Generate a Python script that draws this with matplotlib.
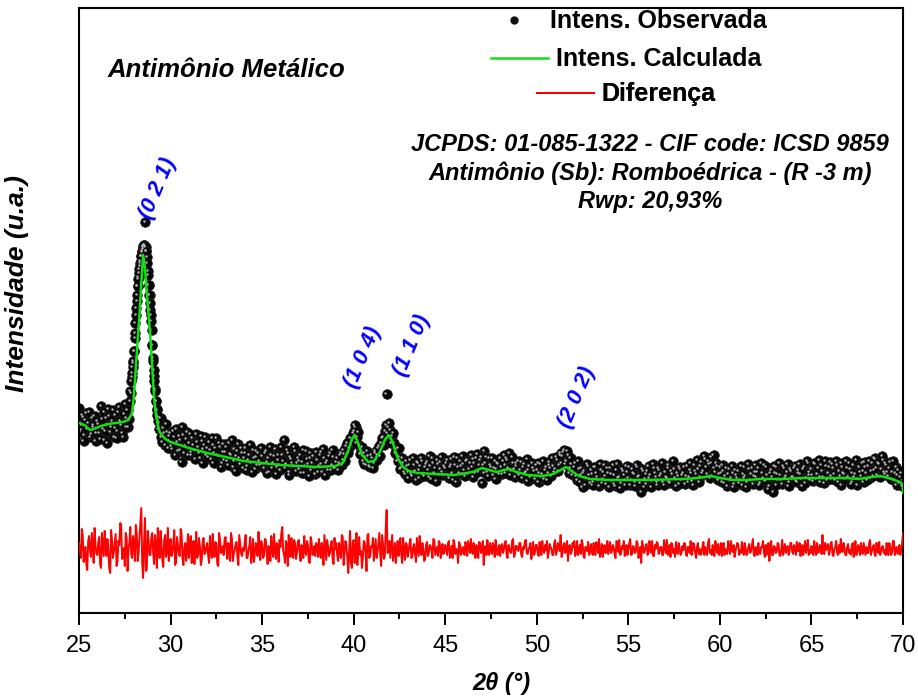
import numpy as np
import matplotlib
matplotlib.use("Agg")
import matplotlib.pyplot as plt
import matplotlib.transforms as mtransforms
from matplotlib.lines import Line2D
from matplotlib.ticker import MultipleLocator

plt.rcParams['font.family'] = ['Liberation Sans', 'DejaVu Sans']

### DATA (arbitrary intensity units)

# observed pattern, 2theta 25.0 ... 70.0, step 0.1
obs = [
    205, 183, 196, 178, 200, 190, 176, 195, 186, 172,   # 25
    192, 180, 207, 184, 173, 195, 204, 181, 192, 176,   # 26
    198, 182, 206, 188, 176, 209, 195, 186, 212, 236,   # 27
    262, 298, 327, 344, 357, 366, 367, 356, 328, 303,   # 28
    268, 237, 212, 196, 190, 176, 185, 168, 181, 172,   # 29
    180, 164, 176, 184, 162, 173, 151, 178, 167, 181,   # 30
    170, 158, 175, 163, 179, 166, 155, 172, 164, 176,   # 31
    165, 171, 154, 168, 160, 175, 157, 166, 150, 169,   # 32
    161, 152, 170, 158, 146, 164, 157, 169, 149, 160,   # 33
    155, 165, 147, 158, 150, 163, 144, 156, 160, 148,   # 34
    157, 145, 162, 151, 141, 158, 150, 164, 146, 153,   # 35
    143, 158, 173, 149, 160, 141, 154, 147, 162, 150,   # 36
    144, 158, 151, 140, 162, 149, 155, 143, 157, 139,   # 37
    153, 147, 161, 141, 155, 150, 143, 160, 148, 156,   # 38
    145, 155, 150, 160, 153, 159, 167, 160, 175, 172,   # 39
    182, 186, 176, 168, 163, 152, 160, 148, 157, 146,   # 40
    155, 150, 162, 158, 167, 170, 176, 182, 219, 186,   # 41
    183, 177, 170, 164, 152, 156, 145, 150, 139, 147,   # 42
    141, 153, 137, 148, 133, 150, 143, 155, 139, 146,   # 43
    151, 136, 147, 155, 140, 132, 149, 144, 156, 138,   # 44
    145, 153, 135, 148, 140, 156, 131, 146, 152, 139,   # 45
    149, 137, 153, 144, 158, 136, 150, 155, 141, 153,   # 46
    130, 162, 150, 141, 155, 146, 138, 152, 144, 149,   # 47
    155, 139, 158, 148, 153, 160, 142, 150, 136, 147,   # 48
    152, 143, 135, 149, 141, 132, 147, 137, 145, 134,   # 49
    143, 131, 149, 139, 134, 146, 140, 151, 137, 147,   # 50
    144, 153, 148, 160, 157, 163, 152, 158, 145, 149,   # 51
    141, 150, 133, 144, 138, 126, 142, 135, 147, 130,   # 52
    139, 131, 146, 136, 127, 143, 134, 148, 129, 140,   # 53
    145, 132, 138, 127, 149, 136, 130, 142, 133, 147,   # 54
    135, 128, 144, 139, 131, 146, 137, 121, 142, 134,   # 55
    129, 147, 138, 132, 145, 136, 128, 143, 139, 131,   # 56
    141, 135, 148, 130, 139, 144, 127, 137, 146, 133,   # 57
    140, 129, 147, 136, 143, 132, 148, 139, 144, 136,   # 58
    151, 142, 154, 139, 149, 156, 137, 145, 150, 133,   # 59
    146, 131, 142, 137, 127, 144, 135, 140, 129, 138,   # 60
    142, 133, 128, 146, 137, 131, 144, 139, 129, 141,   # 61
    136, 145, 130, 140, 148, 133, 138, 127, 143, 121,   # 62
    140, 146, 133, 138, 129, 145, 137, 149, 131, 142,   # 63
    136, 147, 131, 143, 139, 127, 146, 135, 150, 138,   # 64
    144, 132, 149, 139, 153, 136, 142, 130, 147, 140,   # 65
    151, 137, 145, 133, 148, 142, 128, 146, 139, 152,   # 66
    136, 144, 131, 148, 139, 128, 146, 137, 142, 151,   # 67
    140, 147, 135, 150, 143, 154, 138, 149, 144, 153,   # 68
    139, 148, 137, 151, 141, 133, 146, 138, 130, 140,   # 69
    133,                                                # 70
]

# observed, in-between steps 25.05 ... 69.95
obs_mid = [
    181, 198, 172, 193, 184, 201, 179, 188, 197, 180,   # 25
    189, 174, 194, 201, 182, 170, 197, 186, 203, 185,   # 26
    175, 201, 192, 180, 199, 186, 203, 194, 220, 250,   # 27
    280, 312, 336, 350, 362, 368, 362, 342, 318, 292,   # 28
    252, 224, 203, 184, 195, 171, 180, 189, 165, 177,   # 29
    167, 182, 158, 171, 177, 163, 186, 160, 174, 158,   # 30
    179, 161, 168, 154, 171, 160, 177, 150, 168, 158,   # 31
    156, 163, 175, 150, 165, 158, 170, 146, 161, 153,   # 32
    166, 148, 159, 173, 152, 142, 162, 155, 165, 145,   # 33
    160, 143, 153, 168, 141, 155, 162, 148, 152, 165,   # 34
    149, 160, 140, 155, 166, 145, 157, 139, 158, 148,   # 35
    166, 152, 145, 163, 138, 156, 150, 166, 142, 155,   # 36
    152, 140, 163, 147, 154, 137, 160, 150, 145, 161,   # 37
    141, 158, 149, 164, 138, 152, 157, 143, 163, 145,   # 38
    151, 143, 158, 148, 163, 152, 170, 165, 168, 180,   # 39
    188, 170, 181, 159, 166, 149, 156, 162, 147, 158,   # 40
    145, 160, 153, 165, 157, 175, 168, 188, 180, 190,   # 41
    170, 180, 160, 158, 165, 144, 155, 141, 152, 135,   # 42
    148, 139, 155, 142, 151, 135, 147, 152, 137, 149,   # 43
    143, 157, 134, 150, 145, 153, 138, 151, 141, 147,   # 44
    150, 138, 146, 154, 133, 148, 155, 140, 147, 157,   # 45
    143, 152, 139, 150, 146, 154, 140, 159, 148, 156,   # 46
    148, 140, 156, 137, 148, 155, 145, 134, 150, 139,   # 47
    146, 152, 140, 155, 145, 138, 156, 144, 150, 140,   # 48
    138, 151, 146, 140, 154, 143, 136, 150, 142, 148,   # 49
    150, 140, 136, 152, 143, 133, 148, 145, 155, 141,   # 50
    156, 142, 158, 150, 161, 149, 162, 140, 155, 138,   # 51
    146, 137, 152, 131, 145, 140, 128, 149, 138, 143,   # 52
    128, 146, 140, 133, 149, 130, 141, 137, 145, 126,   # 53
    139, 148, 129, 143, 135, 125, 144, 138, 128, 141,   # 54
    146, 133, 140, 127, 148, 136, 130, 144, 126, 139,   # 55
    142, 135, 126, 149, 140, 131, 145, 137, 150, 128,   # 56
    136, 145, 131, 142, 152, 135, 140, 129, 144, 138,   # 57
    146, 137, 131, 150, 140, 128, 142, 153, 131, 147,   # 58
    140, 157, 146, 152, 135, 150, 158, 141, 147, 139,   # 59
    140, 148, 130, 145, 139, 133, 147, 126, 143, 135,   # 60
    130, 147, 139, 135, 126, 149, 133, 145, 137, 148,   # 61
    141, 128, 150, 135, 132, 146, 124, 140, 136, 147,   # 62
    128, 139, 150, 133, 147, 135, 141, 127, 144, 136,   # 63
    145, 132, 140, 149, 134, 144, 130, 152, 141, 133,   # 64
    138, 150, 134, 145, 131, 148, 136, 152, 133, 146,   # 65
    134, 149, 139, 152, 131, 137, 150, 140, 134, 145,   # 66
    150, 129, 140, 136, 153, 134, 141, 150, 131, 146,   # 67
    133, 152, 142, 137, 155, 145, 150, 136, 157, 141,   # 68
    150, 141, 145, 134, 152, 140, 128, 143, 136, 127,   # 69
]

# extra observed points on the (021) peak
pk_x = [27.80, 27.84, 27.88, 27.92, 27.96, 28.00, 28.04, 28.08, 28.12, 28.16,
        28.20, 28.24, 28.28, 28.32, 28.36, 28.40, 28.44, 28.48, 28.52, 28.56,
        28.60, 28.64, 28.68, 28.72, 28.76, 28.80, 28.84, 28.88, 28.92, 28.96,
        29.00, 29.04, 29.08, 29.12, 29.16, 29.20, 29.24, 29.28, 29.32]
pk_y = [222, 232, 240, 246, 252, 262, 275, 290, 305, 318,
        327, 334, 340, 347, 352, 357, 361, 364, 367, 368,
        391, 366, 362, 350, 338, 328, 318, 310, 298, 283,
        268, 255, 243, 232, 222, 212, 204, 198, 192]

# calculated (Rietveld) profile
calc_x = [25.0, 25.3, 25.6, 25.8, 26.2, 26.6, 27.0, 27.4, 27.7, 27.9,
          28.0, 28.1, 28.2, 28.3, 28.4, 28.5, 28.6, 28.7, 28.8, 28.9,
          29.0, 29.1, 29.2, 29.3, 29.4, 29.7, 30.0, 30.5, 31.0, 32.0,
          33.0, 34.0, 35.0, 36.0, 37.0, 38.0, 39.0, 39.4, 39.7, 39.9,
          40.05, 40.2, 40.45, 40.8, 41.1, 41.4, 41.7, 41.9, 42.1, 42.4,
          42.7, 43.0, 43.5, 44.5, 45.5, 46.5, 47.0, 47.4, 47.8, 48.2,
          48.5, 48.9, 49.5, 50.3, 50.9, 51.3, 51.6, 51.9, 52.3, 52.9,
          54.0, 56.0, 58.0, 58.8, 59.5, 60.0, 60.7, 61.5, 62.2, 63.5,
          64.5, 65.8, 66.8, 67.6, 68.3, 68.75, 69.2, 69.85, 69.98, 70.0]
calc_y = [190, 188, 183, 184, 187, 189, 190, 191, 193, 200,
          218, 245, 272, 298, 330, 358, 345, 320, 298, 275,
          245, 215, 198, 188, 181, 174, 171, 168, 165, 160,
          156, 152, 150, 148, 147, 146, 147, 150, 162, 174,
          178, 172, 158, 151, 152, 160, 173, 178, 172, 155,
          146, 142, 140, 139, 138, 141, 145, 143, 141, 143,
          144, 141, 138, 137, 139, 143, 146, 142, 137, 134,
          133, 133, 134, 135, 137, 135, 133, 133, 134, 134,
          135, 135, 135, 134, 136, 137, 135, 131, 128, 120]

# difference curve (offset), step 0.1
diff = [
    70, 55, 78, 60, 48, 72, 62, 80, 50, 67,
    58, 76, 45, 69, 82, 57, 64, 40, 73, 61,
    79, 52, 68, 88, 58, 47, 75, 63, 86, 55,
    70, 88, 52, 76, 105, 35, 95, 44, 72, 58,
    80, 49, 66, 85, 55, 71, 46, 78, 62, 52,
    74, 60, 83, 51, 68, 57, 79, 48, 70, 63,
    55, 77, 62, 49, 81, 58, 67, 53, 75, 60,
    70, 50, 64, 79, 56, 68, 47, 73, 61, 58,
    76, 54, 66, 80, 52, 63, 71, 48, 69, 57,
    62, 78, 55, 67, 50, 74, 59, 65, 81, 53,
    68, 57, 73, 49, 64, 77, 56, 62, 70, 51,
    66, 86, 58, 72, 47, 65, 75, 55, 69, 60,
    73, 52, 64, 77, 58, 68, 50, 71, 62, 57,
    67, 74, 55, 63, 78, 53, 66, 60, 72, 49,
    64, 58, 70, 55, 76, 61, 67, 40, 82, 45,
    73, 58, 48, 76, 62, 55, 70, 42, 79, 58,
    66, 52, 74, 60, 80, 47, 68, 57, 103, 62,
    55, 78, 60, 50, 72, 64, 58, 75, 53, 68,
    62, 74, 56, 69, 51, 66, 77, 58, 64, 54,
    71, 60, 67, 55, 73, 62, 57, 70, 63, 59,
    68, 58, 72, 61, 55, 70, 64, 50, 69, 60,
    63, 71, 57, 66, 74, 59, 62, 68, 55, 70,
    61, 48, 67, 73, 58, 64, 70, 56, 66, 62,
    57, 69, 63, 72, 55, 65, 60, 74, 58, 67,
    62, 70, 56, 64, 73, 59, 66, 54, 71, 61,
    68, 57, 65, 72, 60, 63, 55, 69, 64, 58,
    73, 62, 67, 78, 59, 70, 64, 52, 68, 61,
    66, 57, 72, 63, 59, 69, 55, 65, 71, 60,
    64, 70, 58, 67, 74, 61, 56, 68, 63, 59,
    71, 62, 66, 55, 69, 73, 60, 64, 57, 68,
    63, 74, 59, 66, 61, 70, 58, 50, 67, 62,
    69, 60, 65, 72, 57, 64, 70, 61, 66, 58,
    67, 73, 62, 56, 68, 64, 71, 59, 65, 60,
    63, 69, 57, 66, 72, 61, 67, 55, 70, 64,
    60, 71, 66, 58, 74, 63, 68, 57, 65, 69,
    62, 57, 70, 64, 59, 67, 72, 61, 56, 66,
    68, 63, 71, 58, 65, 60, 69, 62, 74, 57,
    64, 70, 59, 66, 61, 68, 63, 52, 72, 58,
    66, 61, 69, 57, 73, 64, 60, 67, 62, 70,
    59, 65, 71, 62, 57, 68, 64, 60, 73, 63,
    67, 58, 64, 70, 61, 66, 78, 59, 63, 69,
    62, 71, 57, 66, 60, 68, 74, 61, 65, 58,
    69, 63, 67, 56, 72, 61, 65, 70, 59, 64,
    66, 60, 73, 62, 68, 57, 64, 71, 61, 67,
    63, 70, 58, 66, 61, 72, 64, 59, 68, 62,
    80,
]

# difference, in-between steps 25.05 ... 69.95
diff_mid = [
    62, 84, 51, 66, 43, 77, 56, 69, 85, 59,
    71, 49, 80, 57, 66, 74, 45, 83, 55, 70,
    47, 72, 90, 54, 65, 80, 42, 71, 59, 77,
    52, 80, 60, 90, 50, 70, 42, 82, 58, 76,
    60, 78, 45, 68, 82, 52, 73, 56, 85, 64,
    57, 70, 48, 76, 60, 84, 55, 66, 52, 79,
    68, 50, 72, 63, 55, 75, 48, 70, 59, 66,
    58, 77, 55, 62, 71, 49, 80, 60, 67, 74,
    63, 70, 52, 74, 59, 68, 56, 78, 60, 65,
    71, 55, 63, 76, 59, 51, 70, 57, 64, 72,
    55, 74, 60, 67, 52, 63, 79, 54, 66, 73,
    80, 62, 50, 67, 78, 56, 62, 73, 54, 71,
    60, 68, 55, 62, 72, 51, 76, 58, 67, 70,
    56, 62, 70, 48, 65, 73, 57, 68, 54, 75,
    70, 52, 63, 78, 48, 72, 56, 62, 50, 71,
    50, 80, 64, 58, 45, 72, 60, 78, 55, 67,
    75, 63, 55, 70, 58, 78, 54, 85, 60, 72,
    67, 52, 70, 63, 57, 75, 50, 62, 70, 56,
    70, 55, 66, 59, 75, 57, 62, 70, 52, 68,
    57, 68, 62, 74, 58, 66, 72, 55, 69, 61,
    64, 70, 55, 67, 73, 59, 62, 71, 58, 66,
    58, 67, 72, 60, 62, 70, 55, 63, 71, 60,
    72, 64, 58, 62, 70, 59, 66, 73, 58, 68,
    66, 60, 70, 58, 68, 61, 72, 56, 67, 63,
    70, 58, 66, 72, 60, 64, 70, 61, 58, 68,
    60, 71, 58, 63, 68, 72, 60, 66, 58, 70,
    58, 70, 62, 56, 68, 60, 72, 66, 59, 70,
    72, 62, 58, 68, 73, 57, 66, 62, 58, 69,
    58, 62, 71, 60, 56, 69, 64, 60, 72, 66,
    60, 68, 58, 72, 61, 58, 67, 72, 62, 58,
    70, 58, 67, 60, 72, 55, 66, 72, 60, 68,
    58, 72, 60, 57, 68, 71, 59, 66, 58, 73,
    60, 58, 68, 70, 60, 56, 62, 70, 58, 67,
    70, 58, 66, 60, 58, 70, 60, 66, 59, 58,
    67, 58, 62, 70, 60, 58, 63, 72, 60, 58,
    70, 66, 58, 60, 72, 59, 63, 68, 62, 70,
    58, 60, 62, 70, 58, 66, 60, 68, 58, 66,
    58, 60, 66, 72, 56, 58, 70, 64, 58, 67,
    60, 70, 58, 64, 58, 69, 66, 58, 70, 61,
    68, 58, 62, 70, 66, 58, 72, 66, 58, 60,
    60, 72, 58, 60, 68, 59, 60, 70, 66, 58,
    70, 58, 64, 72, 58, 60, 62, 70, 58, 66,
    60, 58, 70, 62, 58, 68, 58, 62, 70, 58,
    60, 70, 58, 66, 58, 70, 60, 58, 66, 60,
    58, 62, 70, 58, 72, 58, 66, 60, 58, 70,
]

two_theta = np.linspace(25, 70, 451)
two_theta_mid = np.linspace(25.05, 69.95, 450)

hkl_labels = ["(0 2 1)", "(1 0 4)", "(1 1 0)", "(2 0 2)"]
hkl_x = [29.3, 40.5, 43.2, 52.2]
hkl_y = [425, 256, 268, 216]

### PLOT

x_obs = np.concatenate([two_theta, two_theta_mid, pk_x])
y_obs = np.concatenate([obs, obs_mid, pk_y])

order = np.argsort(np.concatenate([two_theta, two_theta_mid]))
x_diff = np.concatenate([two_theta, two_theta_mid])[order]
y_diff = np.concatenate([diff, diff_mid])[order]

fig = plt.figure(figsize=(9.18, 7.0), dpi=100)
ax = fig.add_axes([0.0861, 0.1243, 0.8976, 0.8643])

green = '#10e010'

# observed: black balls with a small highlight
hl = mtransforms.offset_copy(ax.transData, fig=fig, x=-1.2, y=1.4, units='dots')
ax.scatter(x_obs, y_obs, s=48, c='#060606', edgecolors='#222222', linewidths=0.5, zorder=2)
ax.scatter(x_obs, y_obs, s=3, c='#b4b4b4', linewidths=0, zorder=2.1, transform=hl)

ax.plot(calc_x, calc_y, color=green, lw=1.8, zorder=3)
ax.plot(x_diff, y_diff, color='#ff0000', lw=1.4, zorder=3)

ax.set_xlim(25, 70)
ax.set_ylim(0, 605)
ax.xaxis.set_major_locator(MultipleLocator(5))
ax.xaxis.set_minor_locator(MultipleLocator(2.5))
ax.tick_params(axis='x', which='major', direction='out', length=8.5, width=1.4,
               labelsize=17, pad=7)
ax.tick_params(axis='x', which='minor', direction='out', length=4.3, width=1.4)
ax.tick_params(axis='y', left=False, labelleft=False)
for sp in ax.spines.values():
    sp.set_linewidth(1.5)

ax.set_xlabel("2θ (°)", fontsize=17, fontweight='bold', style='italic')
ax.xaxis.set_label_coords(0.513, -0.097)
ax.set_ylabel("Intensidade (u.a.)", fontsize=19, fontweight='bold', style='italic')
ax.yaxis.set_label_coords(-0.061, 0.545)

# legend, one centred row per entry
rows = [
    (Line2D([], [], ls='none', marker='o', ms=5, color='#111111'), "Intens. Observada", 0.978),
    (Line2D([], [], color=green, lw=1.8), "Intens. Calculada", 0.915),
    (Line2D([], [], color='#ff0000', lw=1.4), "Diferença", 0.857),
]
for h, lab, yy in rows:
    leg = ax.legend([h], [lab], loc='center', bbox_to_anchor=(0.664, yy),
                    frameon=False, prop={'weight': 'bold', 'size': 18},
                    handlelength=2.3, handletextpad=0.3, borderpad=0, borderaxespad=0)
    ax.add_artist(leg)

ax.text(0.034, 0.8975, "Antimônio Metálico", transform=ax.transAxes,
        fontsize=18.5, fontweight='bold', style='italic', ha='left', va='center')
ax.text(0.693, 0.727,
        "JCPDS: 01-085-1322 - CIF code: ICSD 9859\n"
        "Antimônio (Sb): Romboédrica - (R -3 m)\n"
        "Rwp: 20,93%",
        transform=ax.transAxes, fontsize=17, fontweight='bold', style='italic',
        ha='center', va='center', multialignment='center', linespacing=1.27)

for lab, xx, yy in zip(hkl_labels, hkl_x, hkl_y):
    ax.text(xx, yy, lab, color='#0000ff', fontsize=16, fontweight='bold',
            style='italic', rotation=67, ha='center', va='center',
            rotation_mode='anchor')

fig.savefig("out.png", dpi=100)
